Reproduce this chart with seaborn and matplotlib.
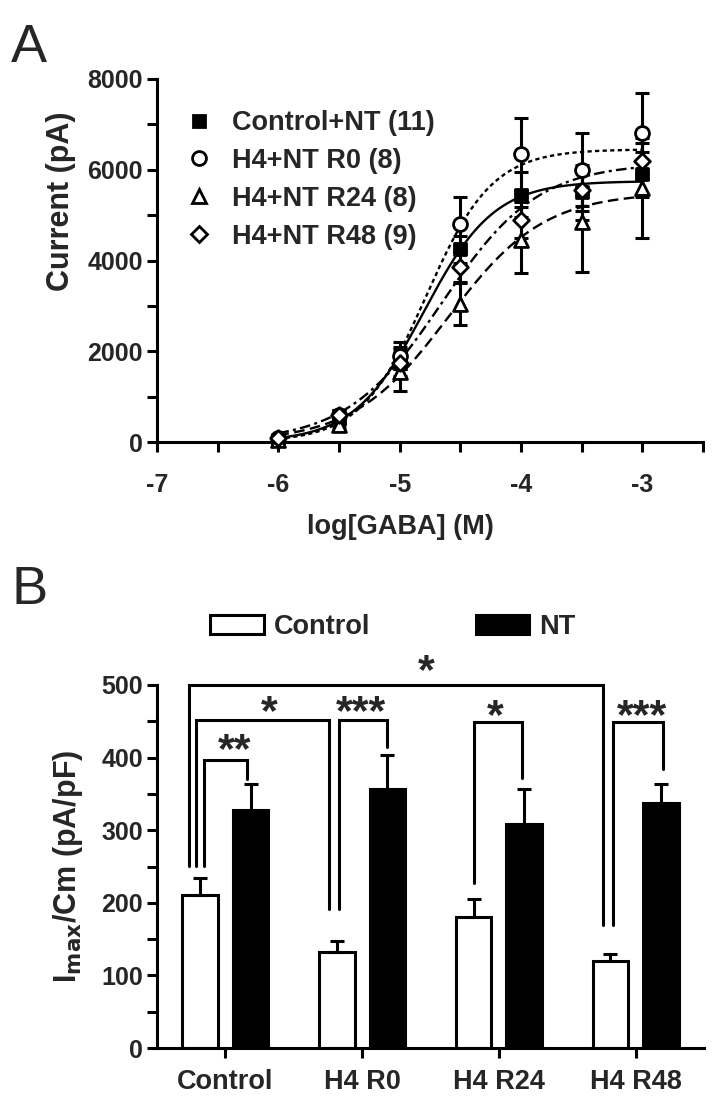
import numpy as np
import pandas as pd
import matplotlib
matplotlib.use("Agg")
import matplotlib.pyplot as plt
import seaborn as sns
from matplotlib.lines import Line2D
from matplotlib.patches import Patch
from matplotlib.ticker import MultipleLocator

# ---- Panel A: GABA concentration-response ----
LOG_GABA = [-6, -5.5, -5, -4.5, -4, -3.5, -3]
SERIES_A = ["Control+NT (11)", "H4+NT R0 (8)", "H4+NT R24 (8)", "H4+NT R48 (9)"]
CTRL_NT   = [50, 500, 1850, 4250, 5450, 5500, 5900]
CTRL_NT_E = [40, 90, 250, 300, 500, 600, 500]
R0_NT     = [80, 600, 1900, 4800, 6350, 6000, 6800]
R0_NT_E   = [40, 100, 300, 600, 800, 800, 900]
R24_NT    = [50, 380, 1550, 3050, 4450, 4850, 5600]
R24_NT_E  = [30, 80, 420, 480, 720, 1100, 1100]
R48_NT    = [80, 600, 1750, 3850, 4900, 5550, 6200]
R48_NT_E  = [40, 100, 300, 350, 400, 450, 400]
# sigmoid fit parameters per series
FIT_TOP  = [5750, 6450, 5500, 6150]
FIT_EC50 = [-4.8, -4.78, -4.6, -4.65]
FIT_HILL = [1.5, 1.6, 1.1, 1.1]

# ---- Panel B: Imax/Cm ----
GROUPS = ["Control", "H4 R0", "H4 R24", "H4 R48"]
IMAX_CTRL   = [211, 132, 180, 120]
IMAX_CTRL_E = [23, 15, 25, 10]
IMAX_NT     = [328, 357, 309, 337]
IMAX_NT_E   = [35, 46, 48, 27]
# brackets: x left, x right, top, left foot, right foot, stars, star x, star y
BRACKETS = [
    (-0.268, 2.763, 500, 251, 169, "*", 1.47, 530),
    (-0.218, 0.755, 452, 251, 192, "*", 0.32, 473),
    (-0.158, 0.158, 397, 251, 370, "**", 0.07, 420),
    (0.834, 1.179, 452, 192, 415, "***", 0.995, 473),
    (1.816, 2.166, 449, 227, 372, "*", 1.97, 468),
    (2.837, 3.197, 449, 169, 384, "***", 3.05, 468),
]

W, H = 714, 1099
LW = 2.2
STAR_FS = 31
sns.set_theme(style="ticks")
plt.rcParams["font.family"] = ["Liberation Sans", "DejaVu Sans"]
plt.rcParams["font.weight"] = "bold"
plt.rcParams["axes.labelweight"] = "bold"
plt.rcParams["mathtext.default"] = "regular"

fig = plt.figure(figsize=(W / 100, H / 100), dpi=100)
fig.patch.set_facecolor("white")

def px_axes(l, t, r, b):
    return fig.add_axes([l / W, 1 - b / H, (r - l) / W, (b - t) / H])

def style_axes(ax):
    sns.despine(ax=ax)
    for s in ("left", "bottom"):
        ax.spines[s].set_linewidth(LW)
        ax.spines[s].set_color("black")
    ax.set_facecolor("white")
    ax.tick_params(which="both", direction="out", length=6, width=LW, color="black",
                   labelsize=18, pad=4)

# ================= Panel A =================
axA = px_axes(157, 79, 703, 442)
style_axes(axA)
ys = [CTRL_NT, R0_NT, R24_NT, R48_NT]
es = [CTRL_NT_E, R0_NT_E, R24_NT_E, R48_NT_E]
markers = ["s", "o", "^", "D"]
msizes = [9, 10, 10, 8]
faces = ["black", "white", "white", "white"]
dashes = ["-", (0, (1.8, 1.4)), (0, (4.5, 2.3)), (0, (4.5, 1.8, 1.3, 1.8))]

xfit = np.linspace(LOG_GABA[0], LOG_GABA[-1], 300)
for i in range(4):
    yfit = FIT_TOP[i] / (1 + 10 ** ((FIT_EC50[i] - xfit) * FIT_HILL[i]))
    sns.lineplot(x=xfit, y=yfit, ax=axA, color="black", lw=1.7,
                 linestyle=dashes[i], zorder=2)
for i in range(4):
    axA.errorbar(LOG_GABA, ys[i], yerr=es[i], fmt="none", ecolor="black",
                 elinewidth=LW, capsize=5, capthick=LW, zorder=3, clip_on=False)
for i in range(4):
    sns.scatterplot(x=LOG_GABA, y=ys[i], ax=axA, marker=markers[i],
                    s=msizes[i] ** 2, color=faces[i], edgecolor="black",
                    linewidth=2, zorder=4, clip_on=False)

axA.set_xlim(-7, -2.5)
axA.set_ylim(0, 8000)
axA.xaxis.set_major_locator(MultipleLocator(1))
axA.xaxis.set_minor_locator(MultipleLocator(0.5))
axA.yaxis.set_major_locator(MultipleLocator(2000))
axA.yaxis.set_minor_locator(MultipleLocator(1000))
axA.set_xticks([-7, -6, -5, -4, -3])
axA.set_xticklabels(["-7", "-6", "-5", "-4", "-3"])
axA.tick_params(axis="x", which="both", length=7, pad=15)
axA.tick_params(axis="y", which="both", length=7, pad=3)
axA.set_xlabel("log[GABA] (M)", fontsize=19.5, fontweight="bold")
axA.xaxis.set_label_coords(0.445, -0.233)
axA.xaxis.label.set_va("center")
axA.set_ylabel("Current (pA)", fontsize=22, fontweight="bold")
axA.yaxis.set_label_coords(-0.175, 0.664)
axA.yaxis.label.set_va("center")

hA = [Line2D([], [], ls="none", marker=markers[i], ms=msizes[i], mfc=faces[i],
             mec="black", mew=2) for i in range(4)]
axA.legend(hA, SERIES_A, loc="upper left", bbox_to_anchor=(185 / W, 1 - 110 / H),
           bbox_transform=fig.transFigure, frameon=False, fontsize=19.5,
           handlelength=1.0, handletextpad=0.75, labelspacing=0.44, borderpad=0,
           borderaxespad=0)

# ================= Panel B =================
axB = px_axes(157, 685, 704, 1048)
style_axes(axB)
df = pd.DataFrame({
    "group": GROUPS * 2,
    "cond": ["Control"] * 4 + ["NT"] * 4,
    "value": IMAX_CTRL + IMAX_NT,
})
sns.barplot(data=df, x="group", y="value", hue="cond", order=GROUPS,
            hue_order=["Control", "NT"], palette={"Control": "white", "NT": "black"},
            edgecolor="black", linewidth=LW, width=0.74, gap=0.3, errorbar=None,
            legend=False, ax=axB, zorder=2)
for cont, errs in zip(axB.containers, [IMAX_CTRL_E, IMAX_NT_E]):
    for bar, e in zip(cont, errs):
        xc = bar.get_x() + bar.get_width() / 2
        axB.errorbar([xc], [bar.get_height()], yerr=[[0], [e]], fmt="none",
                     ecolor="black", elinewidth=LW, capsize=5, capthick=LW, zorder=3)

for x1, x2, top, f1, f2, lab, sx, sy in BRACKETS:
    axB.plot([x1, x1, x2, x2], [f1, top, top, f2], color="black", lw=LW,
             clip_on=False, solid_joinstyle="miter", zorder=4)
    axB.annotate(lab, (sx, sy), xytext=(0, -0.45 * STAR_FS), textcoords="offset points",
                 ha="center", va="baseline", fontsize=STAR_FS, fontweight="bold",
                 annotation_clip=False)

axB.set_xlim(-0.5, 3.5)
axB.set_ylim(0, 500)
axB.yaxis.set_major_locator(MultipleLocator(100))
axB.yaxis.set_minor_locator(MultipleLocator(50))
axB.tick_params(axis="y", which="both", length=7, pad=3)
axB.tick_params(axis="x", length=7, pad=8, labelsize=19.5)
axB.set_xlabel("")
axB.set_ylabel(r"I$_{\mathbf{max}}$/Cm (pA/pF)", fontsize=22, fontweight="bold")
axB.yaxis.set_label_coords(-0.163, 0.50)
axB.yaxis.label.set_va("center")

hB = [Patch(facecolor="white", edgecolor="black", linewidth=LW),
      Patch(facecolor="black", edgecolor="black", linewidth=LW)]
axB.legend(hB, ["Control", "NT"], loc="center", bbox_to_anchor=(393 / W, 1 - 627 / H),
           bbox_transform=fig.transFigure, ncol=2, frameon=False, fontsize=19.5,
           handlelength=1.97, handleheight=0.72, handletextpad=0.38,
           columnspacing=3.9, borderpad=0)

for t in axA.get_xticklabels() + axA.get_yticklabels() + axB.get_xticklabels() + axB.get_yticklabels():
    t.set_fontweight("bold")

fig.text(11 / W, 1 - 62 / H, "A", fontsize=39, fontweight="normal", va="baseline")
fig.text(11 / W, 1 - 604 / H, "B", fontsize=39, fontweight="normal", va="baseline")

fig.savefig("out.png", dpi=100, facecolor="white")
